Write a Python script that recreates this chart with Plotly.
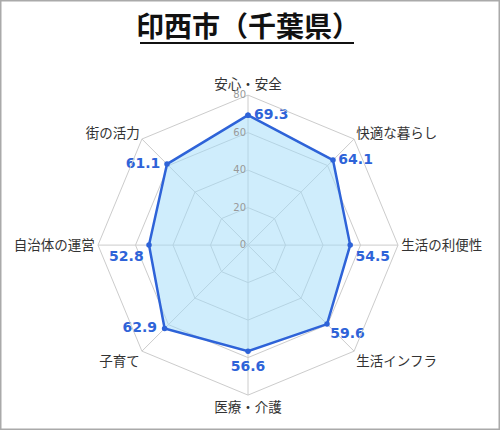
import plotly.graph_objects as go

categories = ["安心・安全", "快適な暮らし", "生活の利便性", "生活インフラ", "医療・介護", "子育て", "自治体の運営", "街の活力"]
values = [69.3, 64.1, 54.5, 59.6, 56.6, 62.9, 52.8, 61.1]
tick_vals = [0, 20, 40, 60, 80]
title = "印西市（千葉県）"

# label placement styles (not data)
label_pos = ["middle right", "middle right", "bottom right", "bottom right", "bottom center", "middle left", "bottom left", "middle left"]
label_gap = [8, 7, 7, 3.5, 13.5, 10.5, 7, 9]

FONT = "Noto Sans CJK JP"
NUMFONT = "DejaVu Sans"
BLUE = "#2e63d8"

fig = go.Figure()
fig.add_trace(go.Scatterpolar(
    r=values + [values[0]], theta=categories + [categories[0]],
    mode="lines+markers", fill="toself",
    fillcolor="rgba(160,220,250,0.5)",
    line=dict(color=BLUE, width=2.5),
    marker=dict(size=5.5, color=BLUE),
    hoverinfo="skip", showlegend=False,
))
fig.add_trace(go.Scatterpolar(
    r=values, theta=categories, mode="markers+text",
    marker=dict(size=label_gap, color="rgba(0,0,0,0)", line=dict(width=0)),
    text=[f"{v:.1f}" for v in values], textposition=label_pos,
    textfont=dict(family=NUMFONT, size=14, color=BLUE, weight="bold"),
    hoverinfo="skip", showlegend=False,
))

fig.update_layout(
    width=500, height=430,
    margin=dict(l=0, r=0, t=0, b=0),
    paper_bgcolor="white", plot_bgcolor="white",
    font=dict(family=FONT, color="#333"),
    polar=dict(
        domain=dict(x=[0.196, 0.796], y=[0.081, 0.779]),
        bgcolor="white",
        gridshape="linear",
        radialaxis=dict(range=[0, 80], tickvals=tick_vals, angle=90, tickangle=90,
                        side="counterclockwise",
                        showline=False, ticks="", gridcolor="#cccccc", gridwidth=1,
                        tickfont=dict(size=10, color="#999", family=NUMFONT)),
        angularaxis=dict(direction="clockwise", rotation=90, gridcolor="#cccccc",
                         linecolor="#cccccc", ticks="",
                         tickfont=dict(size=13.5, color="#333", family=FONT)),
    ),
    annotations=[dict(text=f"<b>{title}</b>", x=0.496, y=1 - 25/430, xref="paper", yref="paper",
                      yanchor="middle", xanchor="center",
                      showarrow=False, font=dict(size=28, color="#111", family=FONT))],
    shapes=[
        dict(type="rect", xref="paper", yref="paper", x0=0, y0=0, x1=1, y1=1,
             line=dict(color="#aaaaaa", width=3)),
        dict(type="line", xref="paper", yref="paper", x0=140/500, x1=354/500,
             y0=1-43/430, y1=1-43/430, line=dict(color="#111", width=2)),
    ],
)
fig.write_html("out.html", config={"displayModeBar": False},
               post_script="document.body.style.margin='0';document.body.style.overflow='hidden';")
